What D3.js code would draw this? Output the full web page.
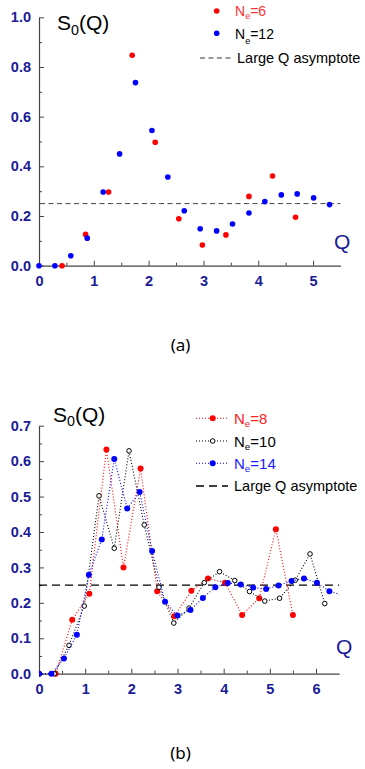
<!DOCTYPE html>
<html><head><meta charset="utf-8">
<script src="https://cdn.jsdelivr.net/npm/d3@7"></script>
<style>body{margin:0;background:#fff}svg{display:block}text{font-family:"Liberation Sans",Arial,sans-serif}</style>
</head><body>
<script>
// ---- Data: panel (a)
const qA6 = [0.42, 0.85, 1.27, 1.70, 2.12, 2.55, 2.98, 3.41, 3.83, 4.26, 4.68];
const sA6 = [0.0, 0.126, 0.297, 0.847, 0.497, 0.189, 0.083, 0.124, 0.279, 0.361, 0.195];
const qA12 = [0, 0.29, 0.58, 0.88, 1.17, 1.47, 1.76, 2.06, 2.35, 2.65, 2.94, 3.24, 3.53, 3.83, 4.12, 4.42, 4.71, 5.01, 5.30];
const sA12 = [0, 0, 0.040, 0.111, 0.297, 0.450, 0.737, 0.544, 0.357, 0.221, 0.149, 0.140, 0.168, 0.212, 0.258, 0.285, 0.289, 0.273, 0.246];
// ---- Data: panel (b)
const qB8 = [0, 0.36, 0.72, 1.09, 1.46, 1.83, 2.20, 2.56, 2.93, 3.30, 3.66, 4.03, 4.40, 4.77, 5.13, 5.50];
const sB8 = [0, 0, 0.152, 0.226, 0.633, 0.300, 0.579, 0.233, 0.162, 0.234, 0.269, 0.257, 0.166, 0.213, 0.408, 0.166];
const qB10 = [0, 0.33, 0.65, 0.98, 1.30, 1.63, 1.95, 2.28, 2.60, 2.92, 3.25, 3.58, 3.91, 4.24, 4.56, 4.89, 5.21, 5.55, 5.87, 6.19];
const sB10 = [0, 0, 0.080, 0.191, 0.502, 0.354, 0.629, 0.420, 0.244, 0.143, 0.185, 0.257, 0.288, 0.263, 0.232, 0.205, 0.213, 0.264, 0.338, 0.198];
const qB14 = [0, 0.27, 0.54, 0.82, 1.08, 1.36, 1.63, 1.91, 2.18, 2.45, 2.73, 3.00, 3.28, 3.55, 3.82, 4.09, 4.37, 4.64, 4.92, 5.19, 5.47, 5.74, 6.02, 6.29, 6.56];
const sB14 = [0, 0, 0.043, 0.110, 0.279, 0.379, 0.606, 0.466, 0.513, 0.346, 0.203, 0.164, 0.180, 0.214, 0.244, 0.256, 0.252, 0.243, 0.239, 0.249, 0.262, 0.269, 0.257, 0.233, 0.222];
const asymptote = 0.25;
const ticksXA = [0, 1, 2, 3, 4, 5];
const ticksYA = [0, 0.2, 0.4, 0.6, 0.8, 1.0];
const ticksXB = [0, 1, 2, 3, 4, 5, 6];
const ticksYB = [0, 0.1, 0.2, 0.3, 0.4, 0.5, 0.6, 0.7];

const navy = "#1b1b96", axisCol = "#444";
const svg = d3.select("body").append("svg").attr("width", 365).attr("height", 769);
const zip = (q, s) => q.map((v, i) => [v, s[i]]);

function axes(g, x, y, xt, xminor, yt, yminor, fmtY) {
  g.append("g").attr("transform", `translate(0,${y.range()[0]})`)
    .call(d3.axisBottom(x).tickValues(xminor).tickSize(-3).tickFormat(""))
    .call(a => a.select(".domain").remove()).selectAll("line").attr("stroke", axisCol);
  g.append("g").attr("transform", `translate(${x.range()[0]},0)`)
    .call(d3.axisLeft(y).tickValues(yminor).tickSize(-3).tickFormat(""))
    .call(a => a.select(".domain").remove()).selectAll("line").attr("stroke", axisCol);
  const xa = g.append("g").attr("transform", `translate(0,${y.range()[0]})`)
    .call(d3.axisBottom(x).tickValues(xt).tickSizeInner(-5).tickSizeOuter(0).tickPadding(10).tickFormat(d3.format("d")));
  xa.select(".domain").attr("stroke", axisCol).attr("stroke-width", 1.2);
  xa.selectAll("line").attr("stroke", axisCol);
  xa.selectAll("text").attr("fill", navy).attr("font-weight", "bold").attr("font-size", 14.5)
    .attr("font-family", "Liberation Sans, Arial, sans-serif");
  const ya = g.append("g").attr("transform", `translate(${x.range()[0]},0)`)
    .call(d3.axisLeft(y).tickValues(yt).tickSizeInner(-5).tickSizeOuter(0).tickPadding(8).tickFormat(fmtY));
  ya.select(".domain").attr("stroke", axisCol).attr("stroke-width", 1.2);
  ya.selectAll("line").attr("stroke", axisCol);
  ya.selectAll("text").attr("fill", navy).attr("font-weight", "bold").attr("font-size", 14.5)
    .attr("font-family", "Liberation Sans, Arial, sans-serif");
}

function sLabel(g, x, yb, size) {
  const t = g.append("text").attr("x", x).attr("y", yb).attr("font-size", size).attr("fill", "#000");
  t.append("tspan").text("S");
  t.append("tspan").attr("font-size", size * 0.68).attr("dy", size * 0.22).text("0");
  t.append("tspan").attr("dy", -size * 0.22).text("(Q)");
}
function neLabel(g, x, yb, n, col, size, subDy) {
  const t = g.append("text").attr("x", x).attr("y", yb).attr("font-size", size).attr("fill", col);
  t.append("tspan").text("N");
  t.append("tspan").attr("font-size", size * 0.65).attr("dy", subDy).text("e");
  t.append("tspan").attr("dy", -subDy).text("=" + n);
}

// ================= Panel (a)
const gA = svg.append("g");
const xA = d3.scaleLinear().domain([0, 5.5]).range([39, 340.5]);
const yA = d3.scaleLinear().domain([0, 1]).range([265.7, 17.3]);
axes(gA, xA, yA, ticksXA, d3.range(0.5, 5.5, 1), ticksYA, d3.range(0.1, 1.0, 0.2), d3.format(".1f"));
gA.append("line").attr("x1", xA(0)).attr("x2", xA(5.5)).attr("y1", yA(asymptote)).attr("y2", yA(asymptote))
  .attr("stroke", "#444").attr("stroke-width", 1).attr("stroke-dasharray", "5,3.5").attr("stroke-dashoffset", -1);
gA.selectAll(".r6").data(zip(qA6, sA6)).join("circle").attr("cx", d => xA(d[0])).attr("cy", d => yA(d[1]))
  .attr("r", 2.8).attr("fill", "#ff0000");
gA.selectAll(".b12").data(zip(qA12, sA12)).join("circle").attr("cx", d => xA(d[0])).attr("cy", d => yA(d[1]))
  .attr("r", 2.8).attr("fill", "#0000ff");
sLabel(gA, 57, 30, 21);
gA.append("text").attr("x", 334).attr("y", 249).attr("font-size", 21).attr("fill", navy).text("Q");
// legend (a)
gA.append("circle").attr("cx", 216.7).attr("cy", 11).attr("r", 2.8).attr("fill", "#ff0000");
neLabel(gA, 235, 16, "6", "#ff3333", 14, 3);
gA.append("circle").attr("cx", 216.7).attr("cy", 33.3).attr("r", 2.8).attr("fill", "#0000ff");
neLabel(gA, 235, 38.5, "12", "#000", 14, 5.5);
gA.append("line").attr("x1", 200).attr("x2", 233).attr("y1", 58).attr("y2", 58)
  .attr("stroke", "#333").attr("stroke-dasharray", "5,3.5");
gA.append("text").attr("x", 237).attr("y", 63).attr("font-size", 14.5).text("Large Q asymptote");
svg.append("text").attr("x", 180.5).attr("y", 351).attr("text-anchor", "middle")
  .style("font-family", "'Noto Sans', sans-serif").attr("font-size", 17).text("(a)");

// ================= Panel (b)
const gB = svg.append("g");
const xB = d3.scaleLinear().domain([0, 6.5]).range([39, 339.1]);
const yB = d3.scaleLinear().domain([0, 0.7]).range([673.7, 425.7]);
axes(gB, xB, yB, ticksXB, d3.range(0.5, 6.5, 1), ticksYB, d3.range(0.05, 0.7, 0.1), d3.format(".1f"));
svg.append("defs").append("clipPath").attr("id", "clipB").append("rect")
  .attr("x", 39).attr("y", 400).attr("width", 300.1).attr("height", 290);
gB.append("line").attr("x1", xB(0)).attr("x2", xB(6.5)).attr("y1", yB(asymptote)).attr("y2", yB(asymptote))
  .attr("stroke", "#000").attr("stroke-width", 1.3).attr("stroke-dasharray", "8,5");
const plot = gB.append("g").attr("clip-path", "url(#clipB)");
const line = d3.line().x(d => xB(d[0])).y(d => yB(d[1]));
function series(q, s, col, open) {
  const d = zip(q, s);
  plot.append("path").datum(d).attr("d", line).attr("fill", "none").attr("stroke", col)
    .attr("stroke-width", 1.1).attr("stroke-dasharray", "1,2");
  plot.append("g").selectAll("circle").data(d).join("circle")
    .attr("cx", p => xB(p[0])).attr("cy", p => yB(p[1]))
    .attr("r", open ? 2.3 : 3)
    .attr("fill", open ? "#fff" : col).attr("stroke", open ? "#000" : "none").attr("stroke-width", 1);
}
series(qB8, sB8, "#ff0000", false);
series(qB10, sB10, "#000000", true);
series(qB14, sB14, "#0000ff", false);
sLabel(gB, 53, 421.5, 21);
gB.append("text").attr("x", 336).attr("y", 654).attr("font-size", 21).attr("fill", navy).text("Q");
// legend (b)
const legB = [["8", "#ff0000", "#ff2020", false, 418.3], ["10", "#000000", "#000", true, 441], ["14", "#0000ff", "#2020ff", false, 463.3]];
legB.forEach(([n, col, tcol, open, y]) => {
  gB.append("line").attr("x1", 196).attr("x2", 228).attr("y1", y).attr("y2", y)
    .attr("stroke", col).attr("stroke-width", 1.1).attr("stroke-dasharray", "1,2");
  gB.append("circle").attr("cx", 212.7).attr("cy", y).attr("r", open ? 2.3 : 3)
    .attr("fill", open ? "#fff" : col).attr("stroke", open ? "#000" : "none");
  neLabel(gB, 234, y + 5.5, n, tcol, 15, 3);
});
gB.append("line").attr("x1", 196).attr("x2", 228).attr("y1", 486).attr("y2", 486)
  .attr("stroke", "#000").attr("stroke-width", 1.3).attr("stroke-dasharray", "8,5");
gB.append("text").attr("x", 234).attr("y", 491).attr("font-size", 14.5).text("Large Q asymptote");
svg.append("text").attr("x", 180.5).attr("y", 759).attr("text-anchor", "middle")
  .style("font-family", "'Noto Sans', sans-serif").attr("font-size", 17).text("(b)");
</script>
</body></html>
